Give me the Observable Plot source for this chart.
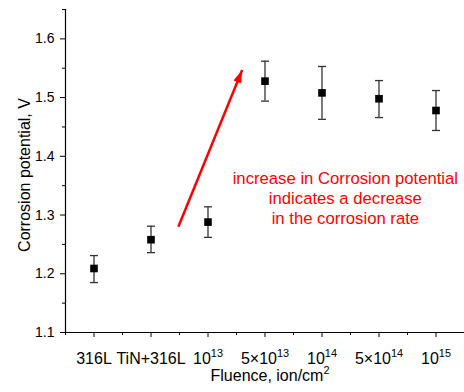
<!DOCTYPE html>
<html>
<head>
<meta charset="utf-8">
<script src="https://cdn.jsdelivr.net/npm/d3@7"></script>
<script src="https://cdn.jsdelivr.net/npm/@observablehq/plot@0.6"></script>
<style>
  html, body { margin: 0; padding: 0; background: #fff; }
  #chart { width: 464px; height: 392px; }
</style>
</head>
<body>
<div id="chart"></div>
<script>
// ---- data ----
const categories = ["316L", "TiN+316L", "10^13", "5×10^13", "10^14", "5×10^14", "10^15"];
const potential = [1.209, 1.258, 1.288, 1.528, 1.508, 1.498, 1.478];
const errLow    = [1.185, 1.236, 1.262, 1.494, 1.463, 1.466, 1.444];
const errHigh   = [1.231, 1.281, 1.314, 1.562, 1.553, 1.529, 1.512];
const yMajorTicks = [1.1, 1.2, 1.3, 1.4, 1.5, 1.6];
const yMinorTicks = [1.15, 1.25, 1.35, 1.45, 1.55, 1.65];
const annotationLines = ["increase in Corrosion potential", "indicates a decrease", "in the corrosion rate"];
const annotationPos = [5.41, 1.329];
const arrowFrom = [2.48, 1.28];
const arrowTo = [3.6, 1.547];
const xTitle = "Fluence, ion/cm^2";
const yTitle = "Corrosion potential, V";

const rows = categories.map((c, i) => ({
  cat: c, x: i + 1, y: potential[i], lo: errLow[i], hi: errHigh[i]
}));
const xMajor = rows.map(d => d.x);
const xMinor = [0.5, ...rows.map(d => d.x + 0.5)];
const capHalf = 0.07;

function arrowMarker(color) {
  const ns = "http://www.w3.org/2000/svg";
  const m = document.createElementNS(ns, "marker");
  m.setAttribute("viewBox", "-13 -5 13 10");
  m.setAttribute("markerUnits", "userSpaceOnUse");
  m.setAttribute("markerWidth", "13");
  m.setAttribute("markerHeight", "10");
  m.setAttribute("refX", "0");
  m.setAttribute("refY", "0");
  m.setAttribute("orient", "auto");
  const p = document.createElementNS(ns, "path");
  p.setAttribute("d", "M-13,-4.2L0,0L-13,4.2Z");
  p.setAttribute("fill", color);
  p.setAttribute("stroke", "none");
  m.appendChild(p);
  return m;
}

const red = "#ff0000";
const plot = Plot.plot({
  width: 464,
  height: 392,
  marginLeft: 65,
  marginRight: 0,
  marginTop: 9,
  marginBottom: 60,
  style: { fontFamily: "'Liberation Sans', Arial, sans-serif", background: "#fff", color: "#000" },
  x: { type: "linear", domain: [0.5, 7.5], axis: null },
  y: { type: "linear", domain: [1.1, 1.65], axis: null },
  marks: [
    // axes lines
    Plot.ruleX([0.5], { stroke: "#000", strokeWidth: 1.2 }),
    Plot.ruleY([1.1], { stroke: "#000", strokeWidth: 1.2 }),
    Plot.axisX({ ticks: xMajor, tickSize: 5, tickPadding: 15, fontSize: 16,
      tickFormat: (d) => categories[d - 1], label: null, stroke: "#000" }),
    Plot.axisX({ ticks: xMinor, tickSize: 3, tickFormat: () => "", label: null }),
    Plot.axisY({ ticks: yMajorTicks, tickSize: 5, tickPadding: 6, fontSize: 14,
      tickFormat: (d) => d.toFixed(1), label: null }),
    Plot.axisY({ ticks: yMinorTicks, tickSize: 3, tickFormat: () => "", label: null }),
    // error bars
    Plot.ruleX(rows, { x: "x", y1: "lo", y2: "hi", stroke: "#333", strokeWidth: 1.3 }),
    Plot.link(rows, { x1: d => d.x - capHalf, x2: d => d.x + capHalf, y1: "hi", y2: "hi", stroke: "#333", strokeWidth: 1.3 }),
    Plot.link(rows, { x1: d => d.x - capHalf, x2: d => d.x + capHalf, y1: "lo", y2: "lo", stroke: "#333", strokeWidth: 1.3 }),
    // points
    Plot.dot(rows, { x: "x", y: "y", symbol: "square", r: 4.3, fill: "#000", stroke: "none" }),
    // arrow
    Plot.link([0], { x1: () => arrowFrom[0], y1: () => arrowFrom[1], x2: () => arrowTo[0], y2: () => arrowTo[1],
      stroke: red, strokeWidth: 2.5, markerEnd: arrowMarker }),
    // annotation
    Plot.text([annotationLines.join("\n")], { x: () => annotationPos[0], y: () => annotationPos[1],
      text: d => d, fill: red, fontSize: 16.7, lineHeight: 1.2, textAnchor: "middle" }),
    // axis titles
    Plot.text([xTitle], { frameAnchor: "bottom", text: d => d, dx: 5, dy: 48, fontSize: 16, fill: "#000" }),
    Plot.text([yTitle], { frameAnchor: "left", textAnchor: "middle", text: d => d, dx: -41, dy: 4, rotate: -90, fontSize: 16, fill: "#000" })
  ]
});

// superscripts: replace "a^b" with tspan
plot.querySelectorAll("text").forEach(el => {
  const s = el.textContent;
  if (el.children.length === 0 && s.includes("^")) {
    const [base, sup] = s.split("^");
    const fs = parseFloat(el.getAttribute("font-size")) || parseFloat(el.parentNode.getAttribute("font-size")) || 16;
    el.textContent = base;
    const t = document.createElementNS("http://www.w3.org/2000/svg", "tspan");
    t.setAttribute("dy", (-0.42 * fs).toFixed(1));
    t.setAttribute("font-size", (0.68 * fs).toFixed(1));
    t.textContent = sup;
    el.appendChild(t);
  }
});

document.getElementById("chart").appendChild(plot);
</script>
</body>
</html>
